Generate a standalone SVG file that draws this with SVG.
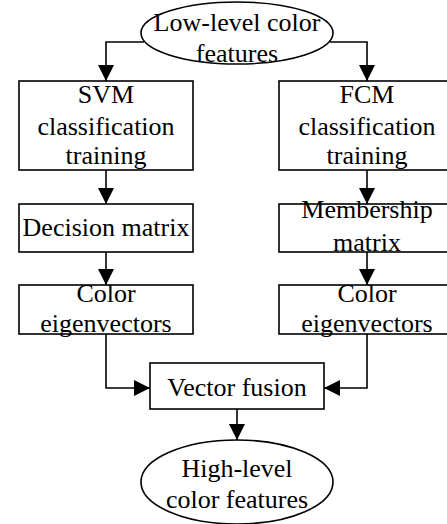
<svg xmlns="http://www.w3.org/2000/svg" width="447" height="524" viewBox="0 0 447 524">
<style>
.n{fill:#fff;stroke:#000;stroke-width:1.6}
.c{fill:none;stroke:#000;stroke-width:1.6}
text{font-family:"Liberation Serif","Times New Roman",serif;font-size:26px;fill:#000;text-anchor:middle}
</style>
<defs>
<marker id="a" markerWidth="16" markerHeight="16" viewBox="0 0 16 16" refX="16" refY="8" orient="auto" markerUnits="userSpaceOnUse">
<path d="M0,0 L16,8 L0,16 Z" fill="#000"/>
</marker>
</defs>
<g id="connectors">
<path class="c" d="M144,42 H106 V81" marker-end="url(#a)"/>
<path class="c" d="M330,42 H367 V81" marker-end="url(#a)"/>
<path class="c" d="M106,170 V204" marker-end="url(#a)"/>
<path class="c" d="M367,170 V204" marker-end="url(#a)"/>
<path class="c" d="M106,252 V285" marker-end="url(#a)"/>
<path class="c" d="M367,252 V285" marker-end="url(#a)"/>
<path class="c" d="M106,334 V388 H150" marker-end="url(#a)"/>
<path class="c" d="M367,334 V388 H324" marker-end="url(#a)"/>
<path class="c" d="M237,409 V440" marker-end="url(#a)"/>
</g>
<g id="low">
<ellipse class="n" cx="237" cy="33" rx="96" ry="31"/>
<text x="237" y="31">Low-level color</text>
<text x="237" y="62">features</text>
</g>
<g id="svm">
<rect class="n" x="19" y="81" width="174" height="89"/>
<text x="106" y="103">SVM</text>
<text x="106" y="135">classification</text>
<text x="106" y="164">training</text>
</g>
<g id="fcm">
<rect class="n" x="279" y="81" width="176" height="89"/>
<text x="367" y="103">FCM</text>
<text x="367" y="135">classification</text>
<text x="367" y="164">training</text>
</g>
<g id="decision">
<rect class="n" x="19" y="204" width="174" height="48"/>
<text x="106" y="236">Decision matrix</text>
</g>
<g id="membership">
<rect class="n" x="279" y="204" width="176" height="48"/>
<text x="367" y="218">Membership</text>
<text x="367" y="251">matrix</text>
</g>
<g id="eig1">
<rect class="n" x="19" y="285" width="174" height="49"/>
<text x="106" y="302">Color</text>
<text x="106" y="332">eigenvectors</text>
</g>
<g id="eig2">
<rect class="n" x="279" y="285" width="176" height="49"/>
<text x="367" y="302">Color</text>
<text x="367" y="332">eigenvectors</text>
</g>
<g id="fusion">
<rect class="n" x="150" y="363" width="174" height="46"/>
<text x="237" y="396">Vector fusion</text>
</g>
<g id="high">
<ellipse class="n" cx="237" cy="482" rx="96" ry="42"/>
<text x="237" y="477">High-level</text>
<text x="237" y="508">color features</text>
</g>
</svg>
